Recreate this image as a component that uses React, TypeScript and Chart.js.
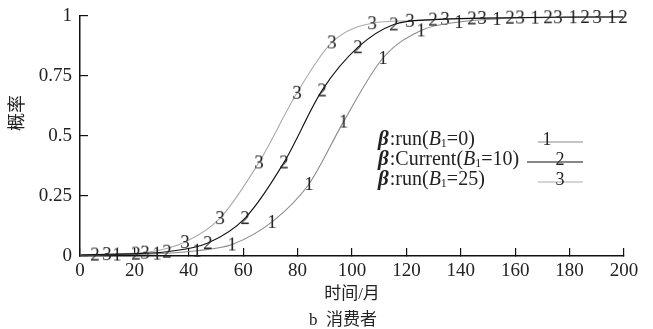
import React, { useEffect, useRef } from 'react';
import { Chart, registerables } from 'chart.js';

Chart.register(...registerables);

// Tick values
const xTicks = [0, 20, 40, 60, 80, 100, 120, 140, 160, 180, 200];
const yTicks = [0, 0.25, 0.5, 0.75, 1];

// Series 1: β:run(B1=0)
const run0X = [0, 13.6, 28.3, 43.0, 55.9, 70.6, 84.2, 96.9, 111.4, 125.4, 139.3, 153.3, 167.3, 181.3, 195.6, 200];
const run0Y = [0.003, 0.006, 0.01, 0.022, 0.048, 0.142, 0.3, 0.56, 0.825, 0.94, 0.975, 0.988, 0.993, 0.995, 0.996, 0.996];

// Series 2: β:Current(B1=10)
const cur10X = [0, 5.5, 20.6, 32.0, 47.0, 60.7, 75.0, 89.0, 102.2, 115.4, 129.8, 144.1, 158.1, 172.1, 185.7, 199.6];
const cur10Y = [0.004, 0.006, 0.01, 0.018, 0.054, 0.158, 0.39, 0.69, 0.87, 0.965, 0.985, 0.99, 0.993, 0.995, 0.996, 0.996];

// Series 3: β:run(B1=25)
const run25X = [0, 9.9, 23.9, 38.6, 51.5, 65.8, 79.8, 92.6, 107.4, 121.3, 134.2, 147.8, 161.8, 175.7, 190.1, 200];
const run25Y = [0.005, 0.008, 0.014, 0.058, 0.158, 0.39, 0.68, 0.89, 0.97, 0.98, 0.988, 0.992, 0.994, 0.995, 0.996, 0.996];

const seriesNames = ['run', 'Current', 'run'];
const seriesB = ['0', '10', '25'];
const seriesMarks = ['1', '2', '3'];
const seriesColors = ['#8a8a8a', '#111111', '#ababab'];

const SERIF = '"Liberation Serif", "Noto Sans CJK SC", serif';

function makeGlyph(t: string) {
  const c = document.createElement('canvas');
  c.width = 18;
  c.height = 24;
  const g = c.getContext('2d')!;
  g.font = `19px ${SERIF}`;
  g.fillStyle = '#222';
  g.textAlign = 'center';
  g.textBaseline = 'middle';
  g.fillText(t, 9, 13);
  return c;
}

const textPlugin = {
  id: 'extraText',
  afterDraw(chart: any) {
    const ctx = chart.ctx as CanvasRenderingContext2D;
    ctx.save();
    ctx.fillStyle = '#222';
    // y title
    ctx.font = `18px ${SERIF}`;
    ctx.textAlign = 'center';
    ctx.textBaseline = 'middle';
    ctx.save();
    ctx.translate(18, 113);
    ctx.rotate(-Math.PI / 2);
    ctx.fillText('概率', 0, 0);
    ctx.restore();
    // x title and caption
    ctx.font = `17px ${SERIF}`;
    ctx.fillText('时间/月', 352, 295);
    ctx.fillText('b  消费者', 343, 321);

    // legend
    const rows = [140, 160, 180];
    const lineStart = [538, 527, 538];
    const glyphX = [547, 560, 560];
    for (let i = 0; i < 3; i++) {
      const y = rows[i];
      let x = 378;
      ctx.textAlign = 'left';
      ctx.textBaseline = 'middle';
      ctx.font = `italic bold 21px ${SERIF}`;
      ctx.fillText('β', x, y);
      x += ctx.measureText('β').width + 1;
      ctx.font = `20px ${SERIF}`;
      const a = ':' + seriesNames[i] + '(';
      ctx.fillText(a, x, y);
      x += ctx.measureText(a).width;
      ctx.font = `italic 20px ${SERIF}`;
      ctx.fillText('B', x, y);
      x += ctx.measureText('B').width;
      ctx.font = `12px ${SERIF}`;
      ctx.fillText('1', x, y + 4);
      x += ctx.measureText('1').width;
      ctx.font = `20px ${SERIF}`;
      ctx.fillText('=' + seriesB[i] + ')', x, y);
      // sample line
      ctx.strokeStyle = seriesColors[i];
      ctx.lineWidth = 1.2;
      ctx.beginPath();
      ctx.moveTo(lineStart[i], y + 2);
      ctx.lineTo(583, y + 2);
      ctx.stroke();
      ctx.font = `18px ${SERIF}`;
      ctx.textAlign = 'center';
      ctx.fillText(seriesMarks[i], glyphX[i], y);
    }
    ctx.restore();
  },
};

export default function App() {
  const ref = useRef<HTMLCanvasElement>(null);
  useEffect(() => {
    if (!ref.current) return;
    const xs = [run0X, cur10X, run25X];
    const ys = [run0Y, cur10Y, run25Y];
    const datasets = [0, 1, 2].map((i) => {
      const glyph = makeGlyph(seriesMarks[i]);
      return {
        label: `β:${seriesNames[i]}(B1=${seriesB[i]})`,
        data: xs[i].map((x, k) => ({ x, y: ys[i][k] })),
        borderColor: seriesColors[i],
        borderWidth: 1.1,
        backgroundColor: seriesColors[i],
        pointStyle: glyph,
        pointRadius: (c: any) => (c.raw && (c.raw.x === 0 || c.raw.x === 200) ? 0 : 6),
        pointHoverRadius: 0,
        cubicInterpolationMode: 'monotone' as const,
        fill: false,
        clip: false as any,
        order: i === 1 ? 0 : 1,
      };
    });
    const chart = new Chart(ref.current, {
      type: 'line',
      data: { datasets },
      options: {
        animation: false,
        responsive: true,
        maintainAspectRatio: false,
        layout: { padding: { left: 0, right: 29, top: 16, bottom: 0 } },
        plugins: { legend: { display: false }, tooltip: { enabled: false } },
        scales: {
          x: {
            type: 'linear',
            min: 0,
            max: 200,
            afterBuildTicks: (s: any) => {
              s.ticks = xTicks.map((v) => ({ value: v }));
            },
            afterFit: (s: any) => {
              s.height = 73;
              s.paddingLeft = 0;
              s.paddingRight = 0;
            },
            grid: { drawOnChartArea: false, drawTicks: true, tickLength: -8, color: '#111', lineWidth: 1.2 },
            border: { display: true, color: '#111', width: 1.5 },
            ticks: {
              padding: 12,
              color: '#222',
              font: { family: SERIF, size: 19 },
              maxRotation: 0,
              autoSkip: false,
              callback: (v: any) => String(v),
            },
          },
          y: {
            type: 'linear',
            min: 0,
            max: 1,
            afterBuildTicks: (s: any) => {
              s.ticks = yTicks.map((v) => ({ value: v }));
            },
            afterFit: (s: any) => {
              s.width = 80;
              s.paddingTop = 0;
              s.paddingBottom = 0;
            },
            grid: { drawOnChartArea: false, drawTicks: true, tickLength: -8, color: '#111', lineWidth: 1.2 },
            border: { display: true, color: '#111', width: 1.5 },
            ticks: {
              padding: 16,
              color: '#222',
              font: { family: SERIF, size: 19 },
              autoSkip: false,
              callback: (v: any) => String(v),
            },
          },
        },
      },
      plugins: [textPlugin],
    });
    return () => chart.destroy();
  }, []);
  return (
    <div style={{ position: 'fixed', left: 0, top: 0, width: 653, height: 329, background: '#fff' }}>
      <canvas ref={ref} />
    </div>
  );
}
